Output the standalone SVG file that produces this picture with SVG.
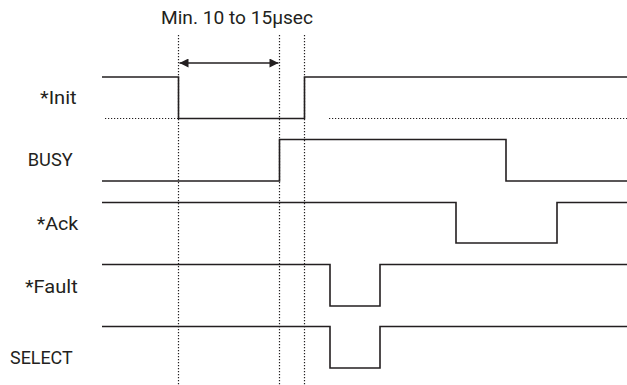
<svg xmlns="http://www.w3.org/2000/svg" width="627" height="385" viewBox="0 0 627 385">
<style>
.sig{fill:none;stroke:#231f20;stroke-width:1.6;stroke-linejoin:miter}
.dot{fill:none;stroke:#231f20;stroke-width:1.2;stroke-dasharray:1.2 1.8}
.lbl{font-family:Roboto,"Liberation Sans",Arial,sans-serif;font-size:19px;fill:#231f20}
</style>
<defs>
<marker id="ah" viewBox="0 0 10 10" refX="10" refY="5" markerWidth="11" markerHeight="9" markerUnits="userSpaceOnUse" orient="auto-start-reverse">
<path d="M0,0 L10,5 L0,10 Z" fill="#231f20"/>
</marker>
</defs>
<rect width="627" height="385" fill="#fff"/>
<g id="connectors">
<line class="dot" x1="178.5" y1="35" x2="178.5" y2="385"/>
<line class="dot" x1="279.5" y1="35" x2="279.5" y2="385"/>
<line class="dot" x1="304.5" y1="35" x2="304.5" y2="385"/>
<line class="dot" x1="105" y1="118.5" x2="178" y2="118.5"/>
<line class="dot" x1="329" y1="118.5" x2="627" y2="118.5"/>
<line x1="179.5" y1="63" x2="278.5" y2="63" stroke="#231f20" stroke-width="1.6" marker-start="url(#ah)" marker-end="url(#ah)"/>
</g>
<g id="title"><text class="lbl" x="161" y="23.5" textLength="152" lengthAdjust="spacingAndGlyphs">Min. 10 to 15µsec</text></g>
<g id="init">
<text class="lbl" x="40" y="103.5" textLength="36.7" lengthAdjust="spacingAndGlyphs">*Init</text>
<polyline class="sig" points="102,77 178.5,77 178.5,118.5 304.5,118.5 304.5,77 627,77"/>
</g>
<g id="busy">
<text class="lbl" x="27.7" y="165.5" textLength="45" lengthAdjust="spacingAndGlyphs">BUSY</text>
<polyline class="sig" points="102,181 279.5,181 279.5,139.5 506,139.5 506,181 627,181"/>
</g>
<g id="ack">
<text class="lbl" x="36.7" y="230" textLength="41.6" lengthAdjust="spacingAndGlyphs">*Ack</text>
<polyline class="sig" points="102,202.5 456,202.5 456,243 557,243 557,202.5 627,202.5"/>
</g>
<g id="fault">
<text class="lbl" x="25" y="292.5" textLength="52.7" lengthAdjust="spacingAndGlyphs">*Fault</text>
<polyline class="sig" points="102,264.5 330,264.5 330,306 380,306 380,264.5 627,264.5"/>
</g>
<g id="select">
<text class="lbl" x="10" y="364" textLength="62.7" lengthAdjust="spacingAndGlyphs">SELECT</text>
<polyline class="sig" points="102,326.5 330,326.5 330,368 380,368 380,326.5 627,326.5"/>
</g>
</svg>
